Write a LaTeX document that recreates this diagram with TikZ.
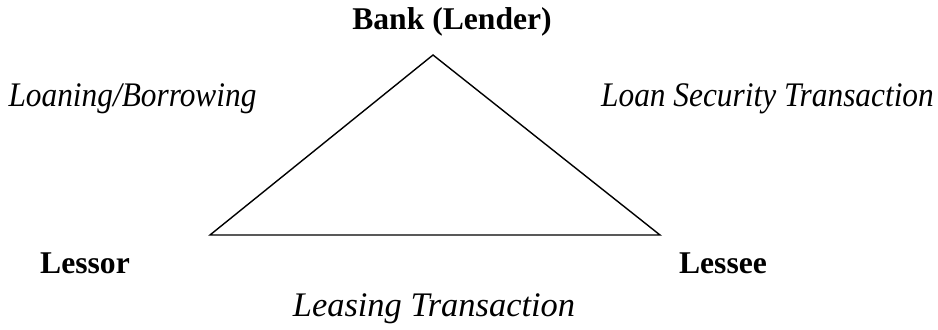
\documentclass[tikz,border=0pt]{standalone}
\usepackage{fontspec}
\setmainfont{Liberation Serif}
\usetikzlibrary{positioning}

\tikzset{
  party/.style={font=\fontsize{18}{20}\selectfont\bfseries},
  deal/.style={font=\fontsize{19.6}{22}\selectfont\itshape}
}
% narrower italic for the side labels
\newcommand{\narrow}[1]{\scalebox{0.91}[1]{#1}}

\begin{document}
\begin{tikzpicture}
  \useasboundingbox (0,0) rectangle (18.76,6.58);
  % corners of the triangle
  \coordinate (bank) at (8.66,5.48);
  \coordinate (lessor) at (4.2,1.88);
  \coordinate (lessee) at (13.2,1.88);
  \draw[line width=0.8pt] (bank) -- (lessor) -- (lessee) -- cycle;

  % parties
  \node[party] (banklbl) at (9.04,6.14) {Bank (Lender)};
  \node[party] (lessorlbl) at (1.7,1.32) {Lessor};
  \node[party] (lesseelbl) at (14.46,1.32) {Lessee};

  % transactions
  \node[deal] (loan) at (2.65,4.6) {\narrow{Loaning/Borrowing}};
  \node[deal] (security) at (15.35,4.6) {\narrow{Loan Security Transaction}};
  \node[deal] (leasing) at (8.68,0.4) {Leasing Transaction};
\end{tikzpicture}
\end{document}
